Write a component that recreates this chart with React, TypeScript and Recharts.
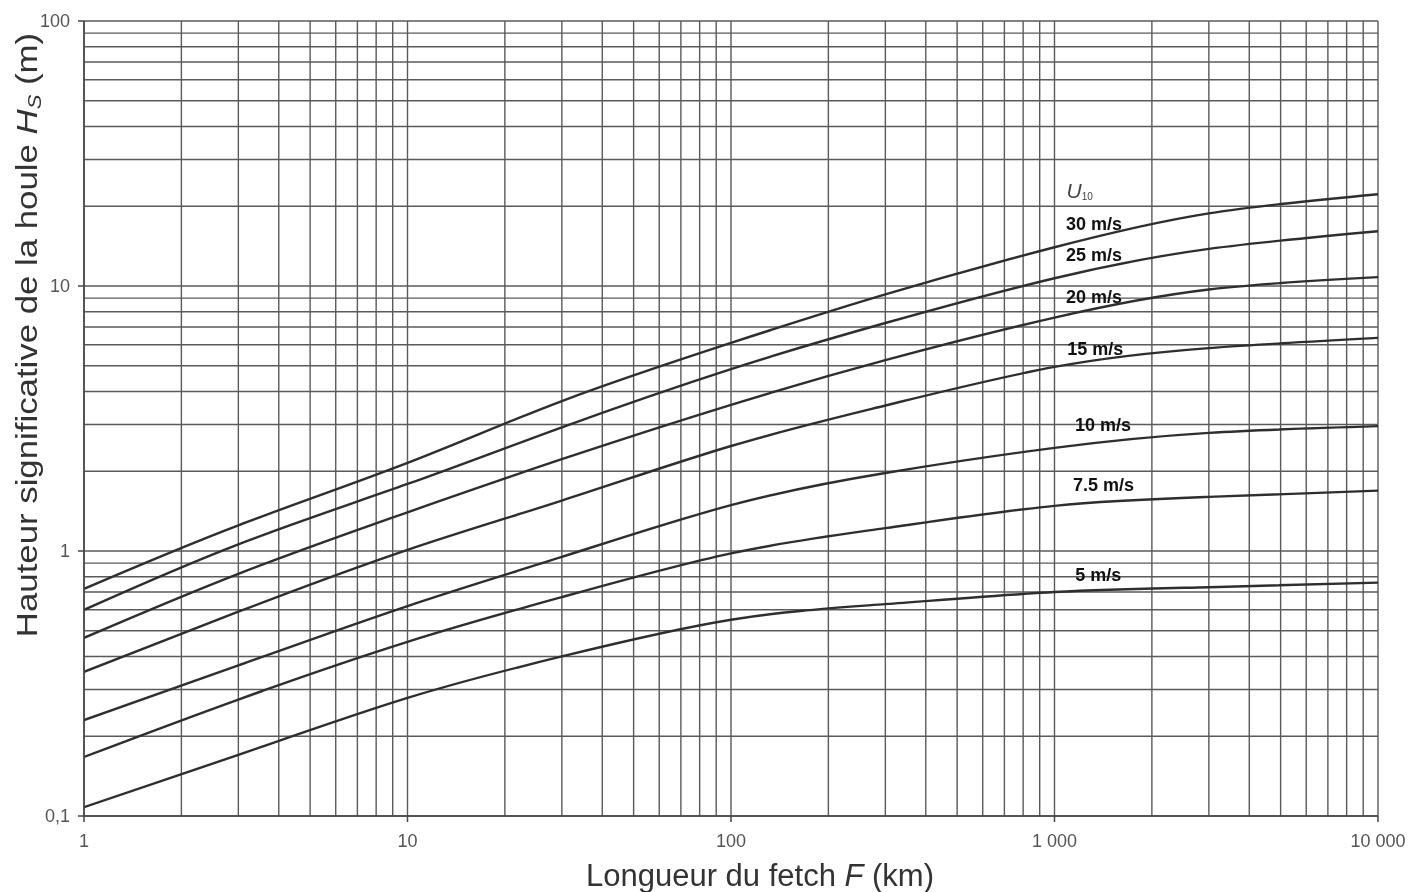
import React from "react";
import { LineChart, Line, XAxis, YAxis, ReferenceLine, ReferenceDot } from "recharts";

// Fetch length F (km)
const fetchKm = [1, 3, 10, 30, 100, 300, 1000, 3000, 10000];
// Significant wave height Hs (m) per wind speed U10
const hs30 = [0.72, 1.25, 2.15, 3.68, 6.1, 9.3, 14.0, 18.8, 22.2];
const hs25 = [0.6, 1.06, 1.79, 2.93, 4.86, 7.25, 10.7, 13.8, 16.1];
const hs20 = [0.47, 0.82, 1.4, 2.22, 3.56, 5.25, 7.6, 9.7, 10.8];
const hs15 = [0.35, 0.59, 1.01, 1.55, 2.49, 3.54, 4.95, 5.83, 6.37];
const hs10 = [0.23, 0.37, 0.62, 0.95, 1.49, 1.97, 2.45, 2.79, 2.96];
const hs75 = [0.167, 0.275, 0.454, 0.67, 0.98, 1.22, 1.48, 1.6, 1.69];
const hs5 = [0.108, 0.17, 0.279, 0.4, 0.55, 0.63, 0.7, 0.73, 0.76];

const seriesKeys = ["u30", "u25", "u20", "u15", "u10", "u75", "u5"];
const seriesValues = [hs30, hs25, hs20, hs15, hs10, hs75, hs5];

// Axis ticks
const xTicks = [1, 10, 100, 1000, 10000];
const xTickLabels = ["1", "10", "100", "1 000", "10 000"];
const yTicks = [0.1, 1, 10, 100];
const yTickLabels = ["0,1", "1", "10", "100"];

// Grid lines (log paper)
const xGrid = [
  1, 2, 3, 4, 5, 6, 7, 8, 9,
  10, 20, 30, 40, 50, 60, 70, 80, 90,
  100, 200, 300, 400, 500, 600, 700, 800, 900,
  1000, 2000, 3000, 4000, 5000, 6000, 7000, 8000, 9000, 10000,
];
const yGrid = [
  0.1, 0.2, 0.3, 0.4, 0.5, 0.6, 0.7, 0.8, 0.9,
  1, 2, 3, 4, 5, 6, 7, 8, 9,
  10, 20, 30, 40, 50, 60, 70, 80, 90, 100,
];

// Curve labels
const labelTexts = ["30 m/s", "25 m/s", "20 m/s", "15 m/s", "10 m/s", "7.5 m/s", "5 m/s"];
const labelX = [1085, 1085, 1085, 1095, 1157, 1140, 1160];
const labelY = [17.1, 13.1, 9.08, 5.78, 2.99, 1.77, 0.81];
const u10LabelX = 1090;
const u10LabelY = 23.0;

const data = fetchKm.map((f, i) => {
  const row: Record<string, number> = { f };
  seriesKeys.forEach((k, j) => {
    row[k] = seriesValues[j][i];
  });
  return row;
});

const tickStyle = {
  fontFamily: "Liberation Sans, Arial, sans-serif",
  fontSize: 18,
  fill: "#555",
};

export default function App() {
  return (
    <div style={{ position: "fixed", left: 8, top: 8, width: 1402, height: 884 }}>
      <LineChart
        width={1402}
        height={884}
        data={data}
        margin={{ top: 13, right: 32, bottom: 0, left: 0 }}
        style={{ overflow: "visible" }}
      >
        <XAxis
          dataKey="f"
          type="number"
          scale="log"
          domain={[1, 10000]}
          ticks={xTicks}
          tickFormatter={(v: number) => xTickLabels[xTicks.indexOf(v)] ?? String(v)}
          allowDataOverflow
          height={76}
          tick={tickStyle}
          tickLine={{ stroke: "#444", strokeWidth: 1.5 }}
          axisLine={{ stroke: "#444", strokeWidth: 1.5 }}
          tickSize={6}
          tickMargin={12}
          label={{
            content: (props: any) => {
              const vb = props.viewBox || {};
              return (
                <text
                  x={vb.x + vb.width / 2 + 29}
                  y={vb.y + 70}
                  textAnchor="middle"
                  fontFamily="Liberation Sans, Arial, sans-serif"
                  fontSize={31}
                  fill="#333"
                >
                  Longueur du fetch <tspan fontStyle="italic">F</tspan> (km)
                </text>
              );
            },
          }}
        />
        <YAxis
          type="number"
          scale="log"
          domain={[0.1, 100]}
          ticks={yTicks}
          tickFormatter={(v: number) => yTickLabels[yTicks.indexOf(v)] ?? String(v)}
          allowDataOverflow
          width={76}
          tick={tickStyle}
          tickLine={{ stroke: "#444", strokeWidth: 1.5 }}
          axisLine={{ stroke: "#444", strokeWidth: 1.5 }}
          tickSize={6}
          tickMargin={8}
          label={{
            content: () => {
              const cx = 19;
              const cy = 327;
              return (
                <text
                  x={0}
                  y={0}
                  transform={`translate(${cx} ${cy}) rotate(-90) scale(1.16 1)`}
                  textAnchor="middle"
                  dominantBaseline="central"
                  fontFamily="Liberation Sans, Arial, sans-serif"
                  fontSize={30}
                  fill="#333"
                >
                  Hauteur significative de la houle{" "}
                  <tspan fontStyle="italic">H</tspan>
                  <tspan fontStyle="italic" fontSize={19} dy={7}>S</tspan>
                  <tspan dy={-7}> (m)</tspan>
                </text>
              );
            },
          }}
        />
        {yGrid.map((v) => (
          <ReferenceLine key={"h" + v} y={v} stroke="#5a5a5a" strokeWidth={1.4} ifOverflow="visible" />
        ))}
        {xGrid.map((v) => (
          <ReferenceLine key={"v" + v} x={v} stroke="#5a5a5a" strokeWidth={1.4} ifOverflow="visible" />
        ))}
        {seriesKeys.map((k) => (
          <Line
            key={k}
            dataKey={k}
            type="natural"
            stroke="#2e2e2e"
            strokeWidth={2.4}
            dot={false}
            isAnimationActive={false}
          />
        ))}
        <ReferenceDot
          x={u10LabelX}
          y={u10LabelY}
          r={0}
          ifOverflow="visible"
          shape={(p: any) => (
            <text
              x={p.cx}
              y={p.cy}
              dominantBaseline="central"
              fontFamily="Liberation Sans, Arial, sans-serif"
              fontSize={21}
              fill="#444"
              fontStyle="italic"
            >
              U<tspan fontSize={10} dy={6} fontStyle="normal">10</tspan>
            </text>
          )}
        />
        {labelTexts.map((t, i) => (
          <ReferenceDot
            key={t}
            x={labelX[i]}
            y={labelY[i]}
            r={0}
            ifOverflow="visible"
            shape={(p: any) => (
              <text
                x={p.cx}
                y={p.cy}
                dominantBaseline="central"
                fontFamily="Liberation Sans, Arial, sans-serif"
                fontWeight="bold"
                fontSize={18}
                fill="#111"
              >
                {t}
              </text>
            )}
          />
        ))}
      </LineChart>
    </div>
  );
}
